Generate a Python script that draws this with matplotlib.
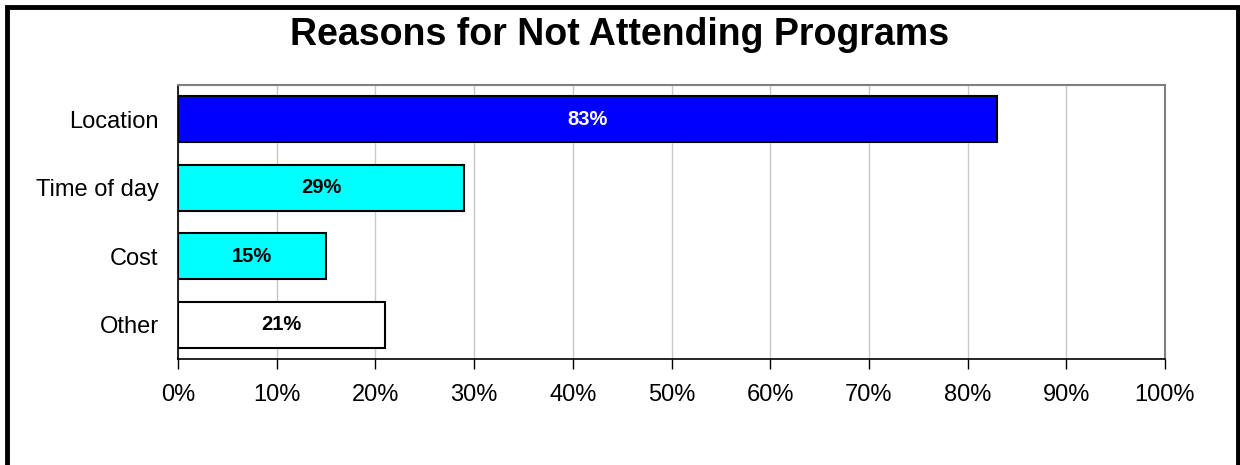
import matplotlib
matplotlib.use("Agg")
import matplotlib.pyplot as plt
from matplotlib.patches import Rectangle

plt.rcParams['font.family'] = ['Liberation Sans', 'DejaVu Sans']

categories = ["Location", "Time of day", "Cost", "Other"]
values = [83, 29, 15, 21]
colors = ["#0000FF", "#00FFFF", "#00FFFF", "#FFFFFF"]
label_colors = ["white", "black", "black", "black"]
xticks = list(range(0, 101, 10))
xtick_labels = [f"{t}%" for t in xticks]
title = "Reasons for Not Attending Programs"

W, H = 1240, 465
fig = plt.figure(figsize=(W / 100, H / 100), dpi=100)
fig.patch.set_facecolor("white")

# outer frame
fig.patches.append(Rectangle((7 / W, -0.05), (W - 9) / W, 1.05 - 7 / H,
                             transform=fig.transFigure, fill=False,
                             edgecolor="black", linewidth=3.5))

left, right, top, bottom = 178, 1165, 85, 359
ax = fig.add_axes([left / W, 1 - bottom / H, (right - left) / W, (bottom - top) / H])

ypos = list(range(len(categories)))
ax.barh(ypos, values, height=0.67, color=colors, edgecolor="black",
        linewidth=1.5, zorder=3)
for y, v, c in zip(ypos, values, label_colors):
    ax.text(v / 2, y, f"{v}%", ha="center", va="center", color=c,
            fontsize=14.5, fontweight="bold", zorder=4)

ax.set_xlim(0, 100)
ax.set_ylim(len(categories) - 0.5, -0.5)
ax.set_yticks(ypos)
ax.set_yticklabels(categories, fontsize=17)
ax.set_xticks(xticks)
ax.set_xticklabels(xtick_labels, fontsize=17)
ax.tick_params(axis="y", length=0, pad=14)
ax.tick_params(axis="x", direction="out", length=7, width=1, pad=11)
ax.grid(axis="x", color="#C8C8C8", linewidth=1, zorder=0)
ax.set_axisbelow(True)
for s in ["left", "bottom"]:
    ax.spines[s].set_color("#000000")
    ax.spines[s].set_linewidth(1.2)
for s in ["top", "right"]:
    ax.spines[s].set_color("#808080")
    ax.spines[s].set_linewidth(1.5)

fig.text(0.5, 1 - 45 / H, title, ha="center", va="baseline",
         fontsize=27, fontweight="bold")

fig.savefig("out.png", dpi=100)
